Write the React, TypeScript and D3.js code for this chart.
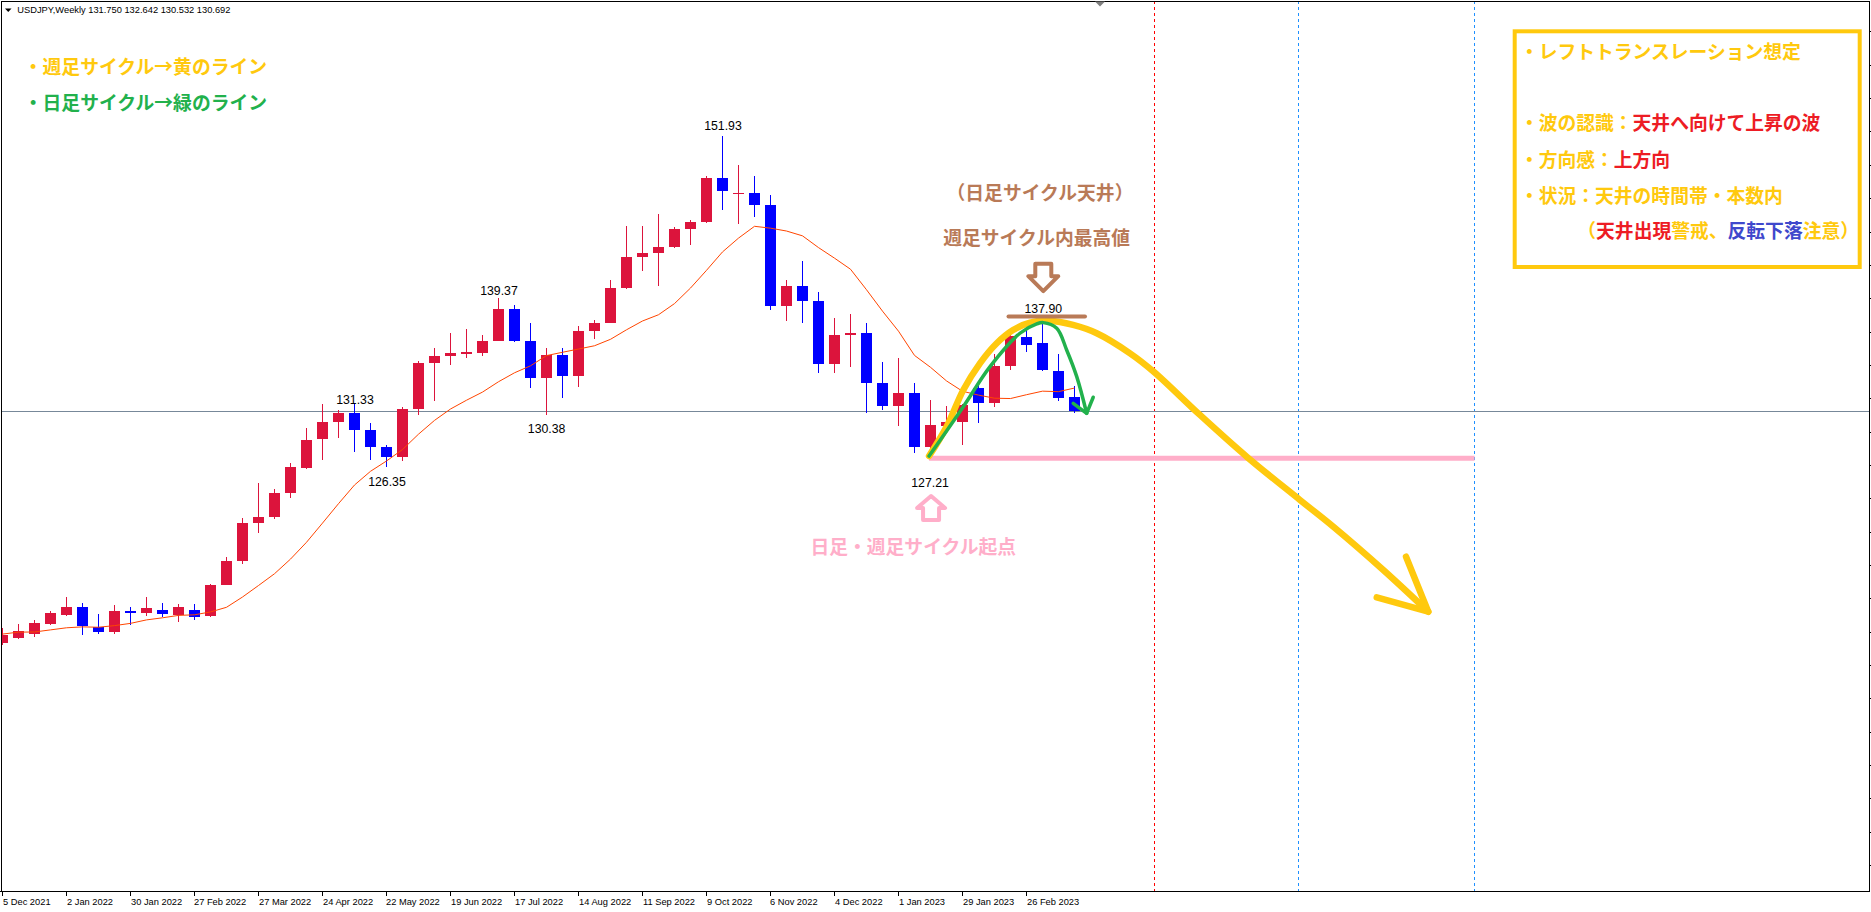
import React from 'react';
import * as d3 from 'd3';

// ---------- DATA (USDJPY weekly, week index 0 = 5 Dec 2021) ----------
const opens = [
  112.81, 113.19, 113.50, 114.28, 114.95, 115.56, 114.05, 113.64, 115.25, 115.12,
  115.33, 114.95, 115.30, 114.85, 117.30, 119.15, 122.05, 122.50, 124.35, 126.32,
  128.50, 129.83, 130.56, 129.21, 127.88, 127.11, 130.88, 134.39, 134.97, 135.15,
  135.21, 136.11, 138.55, 136.12, 133.27, 135.01, 133.43, 136.89, 137.50, 140.20,
  142.59, 142.91, 143.37, 144.74, 145.26, 148.69, 147.45, 147.55, 146.61, 138.77,
  140.38, 139.18, 134.31, 136.59, 136.71, 132.84, 131.10, 132.09, 127.90, 129.55,
  129.86, 132.48, 131.30, 134.20, 136.39, 135.97, 133.79, 131.75,
];
const highs = [
  113.92, 114.25, 114.56, 115.25, 116.33, 115.87, 115.06, 115.72, 115.56, 116.33,
  115.87, 115.79, 115.81, 117.35, 119.41, 122.43, 125.10, 124.69, 126.68, 129.41,
  131.25, 130.80, 131.35, 129.77, 128.10, 130.99, 134.56, 135.59, 136.71, 137.00,
  136.58, 139.39, 138.88, 137.46, 135.58, 135.58, 137.23, 137.70, 140.80, 144.99,
  144.96, 145.90, 144.87, 145.43, 148.86, 151.94, 149.70, 148.85, 147.38, 140.79,
  142.25, 139.89, 137.86, 138.18, 137.48, 134.50, 134.78, 132.87, 131.58, 131.12,
  131.20, 132.90, 135.12, 136.70, 137.10, 137.91, 135.10, 132.642,
];
const lows = [
  112.60, 113.08, 113.27, 114.20, 114.87, 113.43, 113.47, 113.48, 114.15, 114.90,
  114.78, 114.41, 114.57, 114.77, 117.25, 118.90, 121.28, 122.39, 124.00, 126.20,
  126.95, 128.63, 127.52, 126.95, 126.35, 126.86, 130.41, 131.49, 134.27, 134.76,
  134.91, 136.11, 136.05, 132.50, 130.39, 131.73, 132.56, 136.23, 137.47, 140.08,
  141.49, 140.35, 143.30, 143.53, 145.25, 146.23, 145.11, 145.67, 138.47, 137.67,
  137.50, 133.62, 133.63, 134.07, 130.57, 130.78, 129.51, 127.46, 127.21, 129.03,
  128.08, 129.80, 131.00, 133.86, 135.26, 133.80, 131.49, 130.532,
];
const closes = [
  113.40, 113.71, 114.33, 115.10, 115.56, 114.12, 113.61, 115.25, 115.12, 115.48,
  115.02, 115.56, 114.80, 117.30, 119.15, 122.05, 122.50, 124.35, 126.41, 128.47,
  129.83, 130.56, 129.21, 127.88, 127.11, 130.88, 134.39, 134.97, 135.21, 135.25,
  136.11, 138.55, 136.12, 133.27, 135.01, 133.43, 136.89, 137.50, 140.20, 142.59,
  142.91, 143.37, 144.74, 145.26, 148.69, 147.65, 147.55, 146.61, 138.77, 140.38,
  139.18, 134.31, 136.59, 136.71, 132.84, 131.12, 132.09, 127.90, 129.60, 129.86,
  131.19, 131.34, 134.20, 136.45, 135.80, 133.85, 131.72, 130.692,
];
// closes of the 9 weeks before the first visible bar (feed the 10-week MA)
const priorCloses = [112.20, 114.22, 113.47, 113.95, 113.40, 113.90, 114.00, 113.38, 112.80];
const maPeriod = 10;

const axisLabels = [
  '5 Dec 2021', '2 Jan 2022', '30 Jan 2022', '27 Feb 2022', '27 Mar 2022', '24 Apr 2022',
  '22 May 2022', '19 Jun 2022', '17 Jul 2022', '14 Aug 2022', '11 Sep 2022', '9 Oct 2022',
  '6 Nov 2022', '4 Dec 2022', '1 Jan 2023', '29 Jan 2023', '26 Feb 2023',
];
const axisLabelIdx = [0, 4, 8, 12, 16, 20, 24, 28, 32, 36, 40, 44, 48, 52, 56, 60, 64];

const priceTicks = [
  160.0, 157.43, 154.85, 152.28, 149.7, 147.13, 144.55, 141.98, 139.4, 136.83, 134.25,
  131.68, 129.1, 126.53, 123.95, 121.38, 118.8, 116.23, 113.65, 111.08, 108.5, 105.93,
  103.35, 100.78, 98.2, 95.63,
];

// price labels (text, bar index, baseline price)
const labelTexts = ['151.93', '139.37', '131.33', '130.38', '126.35', '127.21', '137.90'];
const labelIdx = [45.03, 31.03, 22.03, 34.01, 24.03, 57.97, 65.05];
const labelPrice = [152.40, 139.62, 131.24, 128.98, 124.91, 124.85, 138.29];

const bidPrice = 130.692;
const startIdx = 57.91;
const startPrice = 127.05;
const pinkEndIdx = 92;
const vRedIdx = [72];
const vBlueIdx = [81, 92];

// hand-drawn yellow weekly-cycle curve (bar index, price)
const yellowIdx = [57.91, 59.01, 60.05, 61.09, 62.14, 63.16, 64.22, 65.47, 66.91, 68.39, 70.47, 71.97, 74.84, 77.78, 81.09, 83.18, 86.3, 89.11];
const yellowPrice = [127.22, 129.49, 132.32, 134.38, 135.93, 136.95, 137.52, 137.67, 137.34, 136.7, 135.15, 133.71, 130.39, 127.15, 123.83, 121.76, 118.42, 115.2];
const yellowArmIdx = [87.72, 89.11, 85.89];
const yellowArmPrice = [119.45, 115.2, 116.31];
// hand-drawn green daily-cycle curve
const greenIdx = [57.91, 60.05, 61.72, 63.59, 64.64, 65.05, 65.89, 66.51, 67.14, 67.76];
const greenPrice = [127.22, 131.03, 134.12, 136.7, 137.42, 137.52, 137.08, 135.41, 133.35, 130.52];
const greenArmIdx = [66.92, 67.76, 68.17];
const greenArmPrice = [131.29, 130.52, 131.76];

// ---------- STYLE ----------
const W = 1871;
const H = 912;
const PL = 1, PT = 1, PR = 1869, PB = 891;
const BULL = '#DC143C';
const BEAR = '#0000FF';
const YEL = '#FFC90E';
const GRN = '#22B14C';
const RED = '#ED1C24';
const BLU = '#3F48CC';
const BRN = '#B97A57';
const PNK = '#FFAEC9';
const JP = "'Noto Sans CJK JP', sans-serif";
const LAT = "'Liberation Sans', Arial, sans-serif";

export default function App() {
  const x = d3.scaleLinear().domain([0, 100]).range([2.5, 1602.5]);
  const y = d3.scaleLinear().domain([126.35, 151.93]).range([467.3, 136]);

  const allCloses = [...priorCloses, ...closes];
  const ma = closes.map((_, i) => d3.mean(allCloses.slice(i + priorCloses.length - maPeriod + 1, i + priorCloses.length + 1)) as number);
  const maLine = d3.line<number>().x((_, i) => x(i)).y((d) => y(d))(ma) || '';

  const curve = d3.line<[number, number]>().x((d) => x(d[0])).y((d) => y(d[1])).curve(d3.curveCatmullRom.alpha(0.5));
  const poly = d3.line<[number, number]>().x((d) => x(d[0])).y((d) => y(d[1]));
  const yellowPath = curve(yellowIdx.map((v, i) => [v, yellowPrice[i]])) || '';
  const yellowArm = poly(yellowArmIdx.map((v, i) => [v, yellowArmPrice[i]])) || '';
  const greenPath = curve(greenIdx.map((v, i) => [v, greenPrice[i]])) || '';
  const greenArm = poly(greenArmIdx.map((v, i) => [v, greenArmPrice[i]])) || '';

  // brown down arrow above 137.90
  const ax = 1043.3, ay = 261.7;
  const brownArrow = `M${ax - 8},${ay + 2} L${ax + 8},${ay + 2} L${ax + 8},${ay + 14.5} L${ax + 15},${ay + 14.5} L${ax},${ay + 29.5} L${ax - 15},${ay + 14.5} L${ax - 8},${ay + 14.5} Z`;
  const px = x(startIdx) + 2, py = 496;
  const pinkArrow = `M${px},${py} L${px + 14},${py + 12} L${px + 8},${py + 12} L${px + 8},${py + 24} L${px - 8},${py + 24} L${px - 8},${py + 12} L${px - 14},${py + 12} Z`;

  return (
    <svg width={W} height={H} style={{ position: 'absolute', left: 0, top: 0, background: '#fff' }}>
      <defs>
        <clipPath id="plot">
          <rect x={PL + 1} y={PT + 1} width={PR - PL - 1} height={PB - PT - 1} />
        </clipPath>
      </defs>
      <rect x={0} y={0} width={W} height={H} fill="#fff" />

      <g clipPath="url(#plot)">
        {/* vertical dashed lines */}
        {vRedIdx.map((v) => (
          <line key={'r' + v} x1={x(v)} x2={x(v)} y1={PT} y2={PB} stroke="#FF0000" strokeDasharray="3,3" />
        ))}
        {vBlueIdx.map((v) => (
          <line key={'b' + v} x1={x(v)} x2={x(v)} y1={PT} y2={PB} stroke="#1E90FF" strokeDasharray="3,3" />
        ))}
        {/* bid line */}
        <line x1={PL} x2={PR} y1={Math.round(y(bidPrice)) + 0.5} y2={Math.round(y(bidPrice)) + 0.5} stroke="#778899" />

        {/* candles */}
        <g shapeRendering="crispEdges">
          {closes.map((c, i) => {
            const o = opens[i];
            const col = c >= o ? BULL : BEAR;
            const cx = Math.round(x(i) - 0.5);
            const yt = Math.min(y(o), y(c));
            const yb = Math.max(y(o), y(c));
            return (
              <g key={i}>
                <rect x={cx} y={y(highs[i])} width={1} height={y(lows[i]) - y(highs[i])} fill={col} />
                <rect x={cx - 5} y={yt} width={11} height={Math.max(1.5, yb - yt)} fill={col} />
              </g>
            );
          })}
        </g>
        {/* moving average */}
        <path d={maLine} fill="none" stroke="#FF4500" strokeWidth={1} />

        {/* pink start line */}
        <line x1={x(startIdx)} x2={x(pinkEndIdx)} y1={y(startPrice)} y2={y(startPrice)} stroke={PNK} strokeWidth={5} />
        {/* yellow curve */}
        <path d={yellowPath} fill="none" stroke={YEL} strokeWidth={6.5} strokeLinecap="round" strokeLinejoin="round" />
        <path d={yellowArm} fill="none" stroke={YEL} strokeWidth={6.5} strokeLinecap="round" strokeLinejoin="round" />
        {/* green curve */}
        <path d={greenPath} fill="none" stroke={GRN} strokeWidth={3.5} strokeLinecap="round" strokeLinejoin="round" />
        <path d={greenArm} fill="none" stroke={GRN} strokeWidth={3.5} strokeLinecap="round" strokeLinejoin="round" />

        {/* brown bar at top */}
        <line x1={1008.5} x2={1085} y1={316.5} y2={316.5} stroke={BRN} strokeWidth={4} strokeLinecap="round" />
        <path d={brownArrow} fill="#fff" stroke={BRN} strokeWidth={4} strokeLinejoin="round" />
        <path d={pinkArrow} fill="#fff" stroke={PNK} strokeWidth={4} strokeLinejoin="round" />

        {/* price labels */}
        {labelTexts.map((t, i) => (
          <text key={t} x={x(labelIdx[i])} y={y(labelPrice[i])} textAnchor="middle" fontFamily={LAT} fontSize={12.3} fill="#000">
            {t}
          </text>
        ))}

        {/* annotations */}
        <g fontFamily={JP} fontWeight={700} fontSize={18.8}>
          <text x={23.8} y={74.1} fill={YEL}>・週足サイクル→黄のライン</text>
          <text x={23.8} y={110.1} fill={GRN}>・日足サイクル→緑のライン</text>
          <text x={1040} y={200.4} textAnchor="middle" fill={BRN}>（日足サイクル天井）</text>
          <text x={1036.7} y={245.4} textAnchor="middle" fill={BRN}>週足サイクル内最高値</text>
          <text x={913.3} y={554.4} textAnchor="middle" fill={PNK}>日足・週足サイクル起点</text>

          <rect x={1514.7} y={31.3} width={345} height={235.7} fill="#fff" stroke={YEL} strokeWidth={4} />
          <text x={1519.9} y={58.8} fill={YEL}>・レフトトランスレーション想定</text>
          <text x={1519.9} y={130.4}>
            <tspan fill={YEL}>・波の認識：</tspan>
            <tspan fill={RED}>天井へ向けて上昇の波</tspan>
          </text>
          <text x={1519.9} y={167.1}>
            <tspan fill={YEL}>・方向感：</tspan>
            <tspan fill={RED}>上方向</tspan>
          </text>
          <text x={1519.9} y={202.8} fill={YEL}>・状況：天井の時間帯・本数内</text>
          <text x={1577.3} y={237.8}>
            <tspan fill={YEL}>（</tspan>
            <tspan fill={RED}>天井出現</tspan>
            <tspan fill={YEL}>警戒、</tspan>
            <tspan fill={BLU}>反転下落</tspan>
            <tspan fill={YEL}>注意）</tspan>
          </text>
        </g>
      </g>

      {/* frame */}
      <g shapeRendering="crispEdges">
        <line x1={PL + 0.5} x2={PL + 0.5} y1={PT} y2={PB} stroke="#000" />
        <line x1={PL} x2={PR} y1={PT + 0.5} y2={PT + 0.5} stroke="#000" />
        <line x1={PR + 0.5} x2={PR + 0.5} y1={PT} y2={PB + 1} stroke="#000" />
        <line x1={0} x2={PR + 1} y1={PB + 0.5} y2={PB + 0.5} stroke="#000" />
        {priceTicks.map((p) => (
          <line key={p} x1={PR + 1} x2={PR + 4} y1={Math.round(y(p)) + 0.5} y2={Math.round(y(p)) + 0.5} stroke="#000" />
        ))}
        {axisLabelIdx.map((v) => (
          <line key={v} x1={Math.round(x(v) - 0.5) + 0.5} x2={Math.round(x(v) - 0.5) + 0.5} y1={PB} y2={PB + 5} stroke="#000" />
        ))}
      </g>
      {axisLabels.map((t, i) => (
        <text key={t} x={Math.round(x(axisLabelIdx[i]))} y={905} fontFamily={LAT} fontSize={9.3} fill="#000">
          {t}
        </text>
      ))}

      {/* header */}
      <path d="M5,8.5 L11.5,8.5 L8.25,12 Z" fill="#000" />
      <text x={17.3} y={13.3} fontFamily={LAT} fontSize={9.3} fill="#000">
        USDJPY,Weekly  131.750 132.642 130.532 130.692
      </text>
      {/* chart shift marker */}
      <path d="M1095,1.5 L1105,1.5 L1100,6.5 Z" fill="#808080" />
    </svg>
  );
}
